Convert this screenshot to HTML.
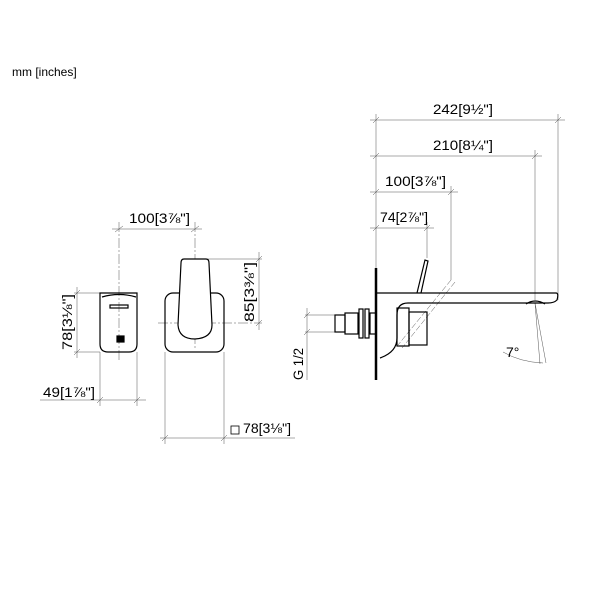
<!DOCTYPE html>
<html><head><style>body{margin:0;background:#fff}svg{display:block}</style></head><body>
<svg width="600" height="600" viewBox="0 0 600 600" xmlns="http://www.w3.org/2000/svg" font-family="Liberation Sans, sans-serif" fill="none" stroke="#000">
<text x="12" y="76" font-size="12" fill="#000" stroke="none">mm [inches]</text>
<g stroke-width="0.5" stroke="#555">
<line x1="112" y1="229" x2="202" y2="229"/><line x1="119" y1="222" x2="119" y2="360" stroke-dasharray="10 2 2 2"/><line x1="195" y1="222" x2="195" y2="350" stroke-dasharray="10 2 2 2"/>
<line x1="115" y1="232" x2="123" y2="226"/><line x1="191" y1="232" x2="199" y2="226"/>
<line x1="77" y1="287" x2="77" y2="358"/><line x1="74" y1="293" x2="100" y2="293"/><line x1="74" y1="352" x2="100" y2="352"/>
<line x1="74" y1="296" x2="80" y2="290"/><line x1="74" y1="355" x2="80" y2="349"/>
<line x1="40" y1="400" x2="146" y2="400"/><line x1="100" y1="352" x2="100" y2="406"/><line x1="137" y1="352" x2="137" y2="406"/>
<line x1="97" y1="403" x2="103" y2="397"/><line x1="134" y1="403" x2="140" y2="397"/>
<line x1="259" y1="252" x2="259" y2="330"/><line x1="208" y1="259" x2="262" y2="259"/><line x1="158" y1="323" x2="262" y2="323" stroke-dasharray="10 2 2 2"/>
<line x1="256" y1="262" x2="262" y2="256"/><line x1="256" y1="326" x2="262" y2="320"/>
<line x1="165" y1="352" x2="165" y2="444"/><line x1="224" y1="352" x2="224" y2="444"/><line x1="160" y1="438" x2="295" y2="438"/>
<line x1="162" y1="441" x2="168" y2="435"/><line x1="221" y1="441" x2="227" y2="435"/>
<line x1="370" y1="120" x2="565" y2="120"/><line x1="370" y1="156" x2="542" y2="156"/><line x1="370" y1="192" x2="458" y2="192"/><line x1="370" y1="228" x2="434" y2="228"/>
<line x1="376" y1="114" x2="376" y2="268"/><line x1="558" y1="114" x2="558" y2="300"/><line x1="535" y1="150" x2="535" y2="300"/>
<line x1="451" y1="186" x2="451" y2="280"/><line x1="427" y1="222" x2="427" y2="258"/>
<line x1="373" y1="123" x2="379" y2="117"/><line x1="555" y1="123" x2="561" y2="117"/><line x1="373" y1="159" x2="379" y2="153"/><line x1="532" y1="159" x2="538" y2="153"/>
<line x1="373" y1="195" x2="379" y2="189"/><line x1="448" y1="195" x2="454" y2="189"/><line x1="373" y1="231" x2="379" y2="225"/><line x1="424" y1="231" x2="430" y2="225"/>
<line x1="305" y1="315" x2="340" y2="315"/><line x1="305" y1="332" x2="340" y2="332"/><line x1="307" y1="308" x2="307" y2="380"/>
<line x1="304" y1="318" x2="310" y2="312"/><line x1="304" y1="335" x2="310" y2="329"/>
<line x1="535" y1="303" x2="540" y2="364"/><line x1="535" y1="303" x2="546" y2="363"/>
<path d="M503 352 Q520 362 543 363"/>
<line x1="451" y1="280" x2="398" y2="345" stroke-dasharray="6 2"/><line x1="455" y1="282" x2="402" y2="348" stroke-dasharray="6 2"/>
</g>
<g fill="#000" stroke="none" font-size="14">
<text x="129" y="223" textLength="61" lengthAdjust="spacingAndGlyphs">100[3⅞"]</text>
<text x="43" y="397" textLength="52" lengthAdjust="spacingAndGlyphs">49[1⅞"]</text>
<text x="243" y="433" textLength="48" lengthAdjust="spacingAndGlyphs">78[3⅛"]</text>
<text transform="translate(72,350) rotate(-90)" textLength="56" lengthAdjust="spacingAndGlyphs">78[3⅛"]</text>
<text transform="translate(254,322) rotate(-90)" textLength="60" lengthAdjust="spacingAndGlyphs">85[3⅜"]</text>
<text x="433" y="114" textLength="60" lengthAdjust="spacingAndGlyphs">242[9½"]</text>
<text x="433" y="150" textLength="60" lengthAdjust="spacingAndGlyphs">210[8¼"]</text>
<text x="385" y="186" textLength="61" lengthAdjust="spacingAndGlyphs">100[3⅞"]</text>
<text x="380" y="222" textLength="48" lengthAdjust="spacingAndGlyphs">74[2⅞"]</text>
<text transform="translate(303,380) rotate(-90)" textLength="32" lengthAdjust="spacingAndGlyphs">G 1/2</text>
<text x="506" y="357">7°</text>
</g>
<rect x="231" y="426" width="8" height="8" stroke-width="0.8"/>
<g stroke-width="1.2">
<path d="M100 293 H137 V344 Q137 352 129 352 H108 Q100 352 100 344 Z"/>
<path d="M102 297 Q119 292 136 297"/><rect x="110" y="305" width="18" height="3"/>
<rect x="117" y="336" width="7" height="6" fill="#000"/>
<rect x="165" y="293" width="59" height="59" rx="8"/>
<path d="M184 259 H206 Q209 259 209 263 L212 325 Q212 338 195 339 Q179 339 178 325 L181 263 Q181 259 184 259 Z" fill="#fff"/>
<line x1="376" y1="268" x2="376" y2="380" stroke-width="2.5"/>
<path d="M376 293 H556 Q559 293 557 300 Q554 303 548 303 H408 Q397 303 397 315 V338 Q397 352 380 358"/>
<path d="M526 304 Q535 298 545 304"/>
<path d="M417 293 L425 260 L428 261 L421 293"/>
<rect x="397" y="308" width="12" height="38"/>
<rect x="409" y="312" width="18" height="33"/>
<rect x="335" y="315" width="10" height="17"/><rect x="345" y="313" width="13" height="21"/>
<rect x="359" y="309" width="4" height="29"/><rect x="365" y="309" width="4" height="29"/><rect x="370" y="313" width="6" height="21"/>
</g>
</svg>
</body></html>
